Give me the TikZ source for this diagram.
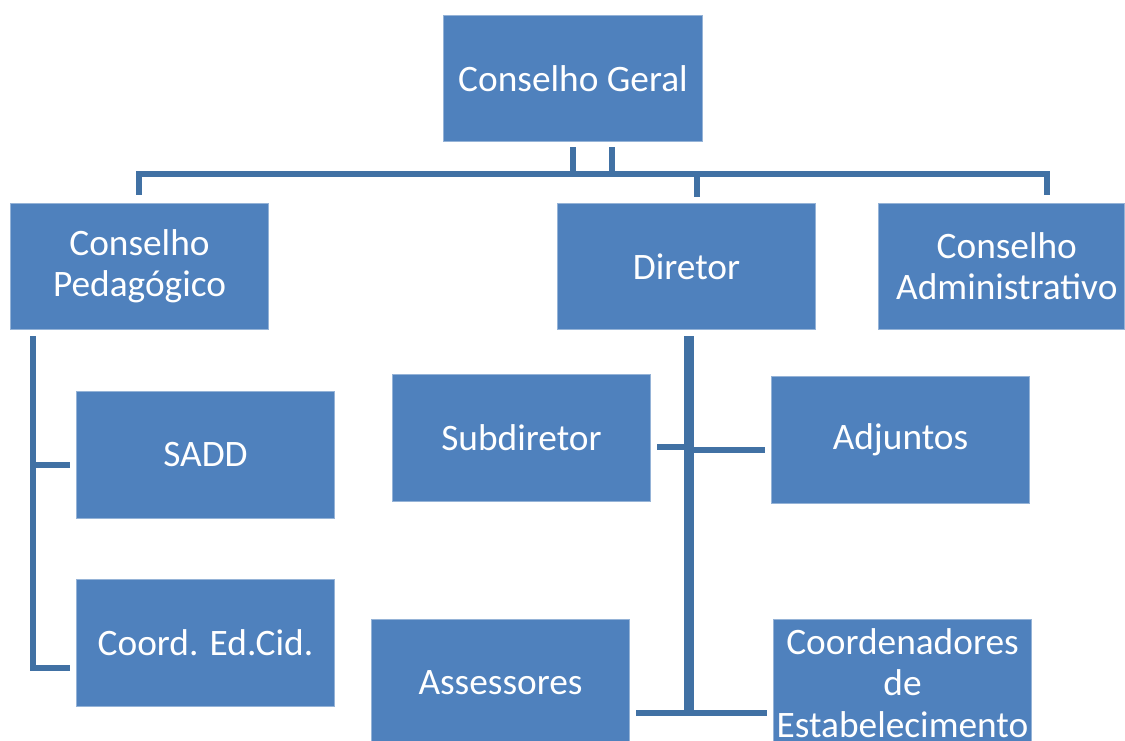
\documentclass[tikz,border=0pt]{standalone}
\usepackage{fontspec}
\setmainfont{Carlito}
\definecolor{boxblue}{RGB}{79,129,189}
\definecolor{linkblue}{RGB}{65,113,164}

\begin{document}
\begin{tikzpicture}[x=0.75pt,y=-0.75pt]
  \tikzset{unit/.style={fill=boxblue, draw=boxblue!60!white, line width=0.6pt,
      minimum width=194pt, minimum height=95pt, inner sep=0pt, align=center,
      text=white, font=\fontsize{28}{31}\selectfont},
    link/.style={draw=linkblue, line width=4pt}}
  \useasboundingbox (0,0) rectangle (1125,740);
  \node[unit] (geral) at (573,78.5) {Conselho Geral};
  \node[unit] (ped) at (139.5,266.5) {Conselho\\Pedagógico};
  \node[unit] (dir) at (686.5,266.5) {Diretor};
  \node[unit, minimum width=185pt] (adm) at (1001.5,266.5) {\hspace*{8pt}Conselho\\\hspace*{8pt}Administrativo};
  \node[unit] (sadd) at (205.5,455) {SADD};
  \node[unit] (coord) at (205.5,643) {Coord. Ed.Cid.};
  \node[unit] (sub) at (521.5,438) {Subdiretor};
  \node[unit] (adj) at (900.5,440) {Adjuntos};
  \node[unit] (ass) at (500.5,683) {Assessores};
  \node[unit] (coe) at (902.5,683) {Coordenadores\\de\\Estabelecimento};
  % top bus
  \coordinate (busL) at (139,174);
  \coordinate (busR) at (1047,174);
  \draw[link] (573,147) -- (573,174);
  \draw[link] (612,147) -- (612,174);
  \draw[link] (busL |- ped.north) ++(0,-8) -- (busL) -- (busR) -- ++(0,21);
  \draw[link] (697,174) -- (697,197);
  % pedagogico branch
  \draw[link] (33,336) -- (33,668) -- ([xshift=-4.5pt]coord.west |- 0,668);
  \draw[link] (33,465) -- ([xshift=-4.5pt]sadd.west |- 0,465);
  % diretor branch
  \draw[link, line width=7pt] (689,336) -- (689,713);
  \draw[link] ([xshift=4.5pt]sub.east |- 0,447) -- (689,447);
  \draw[link] (689,450) -- ([xshift=-4.5pt]adj.west |- 0,450);
  \draw[link] ([xshift=4.5pt]ass.east |- 0,713) -- ([xshift=-4.5pt]coe.west |- 0,713);
\end{tikzpicture}
\end{document}
